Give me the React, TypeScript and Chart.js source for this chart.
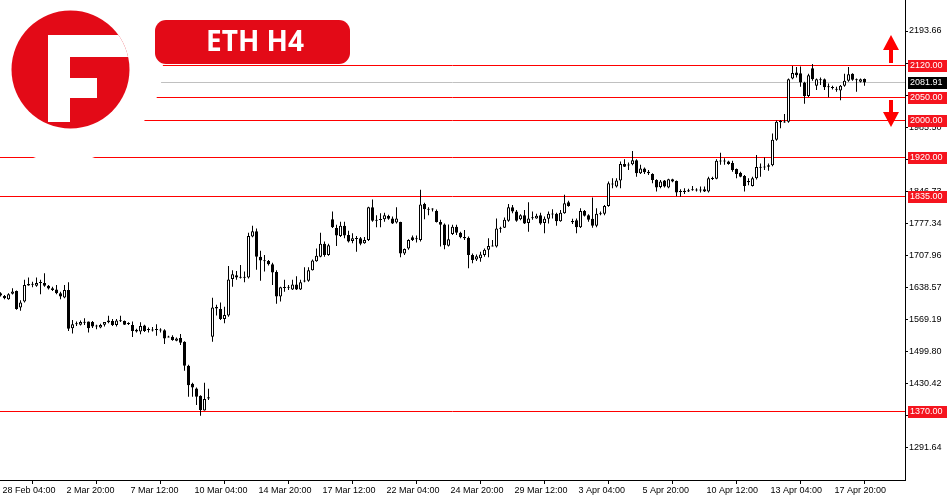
import React, { useEffect, useRef } from "react";
import { Chart, registerables } from "chart.js";

Chart.register(...registerables);

// ETH H4 candles (O/H/L/C), 28 Feb 04:00 .. 18 Apr
const opens = [
  1626, 1620, 1613, 1625, 1631, 1595, 1608, 1646, 1645, 1642, 1649, 1648, 1642, 1637, 1634, 1626,
  1617, 1633, 1550, 1559, 1558, 1563, 1565, 1564, 1555, 1552, 1558, 1567, 1566, 1557, 1566, 1566,
  1561, 1557, 1547, 1543, 1556, 1547, 1547, 1548, 1547, 1546, 1532, 1532, 1523, 1529, 1521, 1469,
  1430, 1420, 1404, 1372, 1401, 1532, 1596, 1592, 1570, 1578, 1657, 1665, 1661, 1660, 1660, 1749,
  1760, 1705, 1697, 1696, 1689, 1672, 1619, 1638, 1638, 1634, 1645, 1634, 1652, 1653, 1676, 1695,
  1705, 1733, 1709, 1786, 1767, 1750, 1772, 1752, 1739, 1745, 1745, 1734, 1741, 1812, 1784, 1785,
  1786, 1793, 1788, 1779, 1780, 1712, 1723, 1747, 1743, 1741, 1819, 1808, 1808, 1804, 1780, 1775,
  1729, 1754, 1770, 1757, 1748, 1746, 1709, 1699, 1702, 1709, 1720, 1728, 1727, 1766, 1768, 1783,
  1812, 1803, 1786, 1795, 1778, 1789, 1788, 1795, 1778, 1787, 1798, 1798, 1782, 1799, 1823, 1781,
  1784, 1769, 1804, 1795, 1787, 1772, 1798, 1798, 1815, 1863, 1857, 1870, 1906, 1903, 1905, 1914,
  1886, 1896, 1889, 1884, 1871, 1856, 1870, 1855, 1873, 1869, 1845, 1847, 1846, 1849, 1850, 1849,
  1851, 1846, 1875, 1874, 1913, 1912, 1911, 1908, 1895, 1887, 1880, 1866, 1858, 1875, 1898, 1899,
  1900, 1903, 1958, 1997, 1997, 1997, 2091, 2104, 2102, 2082, 2053, 2113, 2075, 2088, 2089, 2073,
  2072, 2068, 2065, 2075, 2086, 2101, 2088, 2084, 2090,
];
const highs = [
  1628, 1622, 1626, 1637, 1632, 1611, 1655, 1660, 1651, 1660, 1655, 1669, 1644, 1640, 1644, 1629,
  1644, 1650, 1568, 1565, 1567, 1572, 1565, 1566, 1558, 1560, 1564, 1577, 1570, 1570, 1577, 1567,
  1563, 1565, 1549, 1563, 1558, 1552, 1553, 1559, 1550, 1548, 1534, 1535, 1530, 1538, 1522, 1471,
  1432, 1422, 1405, 1432, 1419, 1616, 1601, 1606, 1597, 1685, 1676, 1674, 1687, 1673, 1757, 1772,
  1766, 1718, 1709, 1698, 1692, 1676, 1640, 1655, 1644, 1655, 1663, 1655, 1682, 1682, 1699, 1723,
  1757, 1738, 1733, 1803, 1774, 1781, 1781, 1761, 1756, 1750, 1748, 1748, 1813, 1829, 1795, 1799,
  1800, 1796, 1792, 1812, 1781, 1723, 1743, 1751, 1751, 1850, 1822, 1812, 1810, 1807, 1785, 1777,
  1775, 1774, 1774, 1759, 1763, 1749, 1712, 1710, 1716, 1723, 1745, 1741, 1788, 1770, 1790, 1819,
  1817, 1806, 1797, 1806, 1823, 1803, 1798, 1800, 1792, 1803, 1808, 1800, 1806, 1839, 1826, 1787,
  1788, 1810, 1806, 1797, 1833, 1810, 1803, 1817, 1868, 1875, 1875, 1911, 1916, 1909, 1934, 1916,
  1904, 1898, 1893, 1886, 1873, 1871, 1871, 1874, 1874, 1870, 1851, 1853, 1852, 1858, 1853, 1857,
  1857, 1878, 1878, 1916, 1930, 1918, 1913, 1913, 1896, 1889, 1882, 1875, 1878, 1925, 1907, 1920,
  1907, 1972, 2000, 2001, 2014, 2091, 2118, 2116, 2117, 2084, 2101, 2122, 2091, 2093, 2091, 2080,
  2075, 2073, 2077, 2101, 2116, 2102, 2091, 2091, 2091,
];
const lows = [
  1619, 1613, 1612, 1623, 1590, 1588, 1606, 1642, 1639, 1640, 1624, 1640, 1634, 1631, 1624, 1613,
  1615, 1544, 1539, 1555, 1556, 1557, 1541, 1551, 1548, 1550, 1554, 1561, 1555, 1554, 1564, 1557,
  1557, 1531, 1541, 1537, 1542, 1541, 1543, 1534, 1541, 1516, 1530, 1523, 1522, 1514, 1458, 1402,
  1402, 1384, 1361, 1372, 1395, 1521, 1578, 1568, 1561, 1575, 1640, 1655, 1658, 1650, 1658, 1747,
  1677, 1653, 1673, 1686, 1644, 1603, 1608, 1629, 1633, 1633, 1633, 1633, 1650, 1651, 1675, 1694,
  1704, 1705, 1707, 1767, 1728, 1748, 1745, 1736, 1734, 1716, 1730, 1733, 1739, 1781, 1769, 1769,
  1781, 1785, 1776, 1777, 1704, 1709, 1720, 1739, 1736, 1738, 1786, 1795, 1803, 1779, 1727, 1721,
  1727, 1752, 1752, 1745, 1741, 1680, 1691, 1696, 1694, 1705, 1704, 1727, 1725, 1757, 1767, 1781,
  1799, 1781, 1784, 1776, 1759, 1785, 1787, 1774, 1756, 1777, 1788, 1772, 1781, 1798, 1813, 1776,
  1756, 1767, 1792, 1781, 1768, 1769, 1795, 1795, 1813, 1853, 1855, 1853, 1899, 1893, 1903, 1878,
  1884, 1884, 1882, 1864, 1846, 1853, 1855, 1853, 1866, 1836, 1835, 1841, 1845, 1848, 1846, 1844,
  1845, 1844, 1871, 1873, 1904, 1904, 1904, 1889, 1875, 1877, 1846, 1860, 1857, 1872, 1878, 1893,
  1891, 1901, 1956, 1983, 1995, 1995, 2089, 2093, 2073, 2036, 2051, 2086, 2066, 2077, 2066, 2050,
  2067, 2062, 2044, 2073, 2084, 2086, 2062, 2082, 2075,
];
const closes = [
  1621, 1615, 1624, 1630, 1592, 1606, 1644, 1643, 1646, 1648, 1649, 1642, 1636, 1633, 1626, 1619,
  1633, 1549, 1559, 1561, 1564, 1563, 1550, 1554, 1555, 1557, 1564, 1563, 1557, 1567, 1567, 1558,
  1560, 1544, 1543, 1555, 1544, 1548, 1546, 1547, 1546, 1528, 1531, 1525, 1528, 1519, 1469, 1427,
  1422, 1402, 1373, 1397, 1398, 1595, 1593, 1570, 1579, 1656, 1667, 1660, 1660, 1661, 1750, 1760,
  1705, 1697, 1696, 1689, 1671, 1619, 1639, 1639, 1640, 1645, 1634, 1650, 1653, 1676, 1697, 1707,
  1733, 1709, 1730, 1769, 1751, 1772, 1751, 1738, 1745, 1744, 1733, 1741, 1812, 1783, 1784, 1786,
  1795, 1787, 1777, 1788, 1712, 1722, 1741, 1741, 1745, 1818, 1808, 1808, 1809, 1780, 1774, 1730,
  1743, 1770, 1757, 1747, 1745, 1709, 1698, 1706, 1710, 1720, 1728, 1729, 1766, 1767, 1785, 1812,
  1803, 1783, 1795, 1777, 1788, 1790, 1794, 1777, 1787, 1798, 1797, 1782, 1800, 1821, 1815, 1781,
  1769, 1804, 1794, 1785, 1772, 1798, 1798, 1815, 1864, 1862, 1870, 1906, 1900, 1904, 1914, 1886,
  1896, 1888, 1886, 1871, 1855, 1868, 1857, 1873, 1868, 1844, 1847, 1846, 1849, 1851, 1849, 1850,
  1846, 1875, 1874, 1913, 1912, 1912, 1906, 1893, 1884, 1878, 1858, 1869, 1875, 1899, 1899, 1900,
  1903, 1958, 1997, 1998, 1996, 2089, 2103, 2098, 2082, 2053, 2098, 2089, 2089, 2088, 2072, 2073,
  2071, 2067, 2075, 2086, 2100, 2088, 2088, 2089, 2082,
];

const tickLabels = [
  "28 Feb 04:00", "2 Mar 20:00", "7 Mar 12:00", "10 Mar 04:00", "14 Mar 20:00",
  "17 Mar 12:00", "22 Mar 04:00", "24 Mar 20:00", "29 Mar 12:00", "3 Apr 04:00",
  "5 Apr 20:00", "10 Apr 12:00", "13 Apr 04:00", "17 Apr 20:00",
];
const tickEvery = 16;
const priceTicks = [
  2193.66, 2124.27, 2054.89, 1985.5, 1916.12, 1846.73, 1777.34, 1707.96,
  1638.57, 1569.19, 1499.8, 1430.42, 1361.03, 1291.64,
];
const levels = [2120, 2050, 2000, 1920, 1835, 1370];
const currentPrice = 2081.91;
const title = "ETH H4";

const RED = "#ff0000";
const BRAND = "#e30a17";
const LABEL_RED = "#f5141e";
const FONT = "'Liberation Sans', Arial, sans-serif";

const overlayPlugin = {
  id: "overlay",
  beforeDatasetsDraw(chart: any) {
    const { ctx, chartArea, scales } = chart;
    const y = scales.y;
    ctx.save();
    ctx.lineWidth = 1;
    const yc = Math.floor(y.getPixelForValue(currentPrice)) + 0.5;
    ctx.strokeStyle = "#c0c0c0";
    ctx.beginPath();
    ctx.moveTo(0, yc);
    ctx.lineTo(chartArea.right, yc);
    ctx.stroke();
    ctx.strokeStyle = RED;
    levels.forEach((lv) => {
      const py = Math.floor(y.getPixelForValue(lv)) + 0.5;
      ctx.beginPath();
      ctx.moveTo(0, py);
      ctx.lineTo(chartArea.right, py);
      ctx.stroke();
    });
    // white halo behind logo
    ctx.fillStyle = "#ffffff";
    ctx.beginPath();
    ctx.arc(64, 63, 99, 0, Math.PI * 2);
    ctx.fill();
    // logo
    ctx.save();
    ctx.beginPath();
    ctx.arc(70.5, 69.5, 59, 0, Math.PI * 2);
    ctx.fillStyle = BRAND;
    ctx.fill();
    ctx.clip();
    ctx.fillStyle = "#ffffff";
    ctx.fillRect(48, 35, 100, 22);
    ctx.fillRect(48, 35, 22, 87);
    ctx.fillRect(70, 78, 27, 20);
    ctx.restore();
    // title badge
    ctx.fillStyle = BRAND;
    ctx.beginPath();
    (ctx as any).roundRect(155, 20, 195, 44, 11);
    ctx.fill();
    ctx.fillStyle = "#ffffff";
    ctx.font = "bold 28px 'Open Sans', 'DejaVu Sans', sans-serif";
    ctx.textAlign = "center";
    ctx.textBaseline = "middle";
    ctx.fillText(title, 255, 43);
    ctx.restore();
  },
  afterDraw(chart: any) {
    const { ctx, scales } = chart;
    const y = scales.y;
    ctx.save();
    ctx.font = "9px " + FONT;
    ctx.textAlign = "left";
    ctx.textBaseline = "middle";
    const box = (val: number, bg: string, text: string) => {
      const py = Math.floor(y.getPixelForValue(val)) + 0.5;
      ctx.fillStyle = bg;
      ctx.fillRect(908, Math.round(py - 6), 39, 12);
      ctx.fillStyle = "#ffffff";
      ctx.fillText(text, 910, py + 0.5);
    };
    levels.forEach((lv) => box(lv, LABEL_RED, lv.toFixed(2)));
    box(currentPrice, "#000000", currentPrice.toFixed(2));
    // arrows
    ctx.fillStyle = RED;
    ctx.beginPath();
    ctx.moveTo(891, 35);
    ctx.lineTo(899, 50);
    ctx.lineTo(883, 50);
    ctx.closePath();
    ctx.fill();
    ctx.fillRect(889, 49, 4, 14);
    ctx.fillRect(889, 100, 4, 13);
    ctx.beginPath();
    ctx.moveTo(883, 112);
    ctx.lineTo(899, 112);
    ctx.lineTo(891, 127);
    ctx.closePath();
    ctx.fill();
    ctx.restore();
  },
};

const noPad = (s: any) => {
  s.paddingTop = 0;
  s.paddingBottom = 0;
  s.paddingLeft = 0;
  s.paddingRight = 0;
};

export default function App() {
  const ref = useRef<HTMLCanvasElement | null>(null);
  useEffect(() => {
    if (!ref.current) return;
    const bodies = opens.map((o, i) => {
      const c = closes[i];
      let lo = Math.min(o, c);
      let hi = Math.max(o, c);
      if (hi - lo < 2.2) {
        const m = (hi + lo) / 2;
        lo = m - 1.1;
        hi = m + 1.1;
      }
      return { x: i, y: [lo, hi] };
    });
    const wicks = highs.map((h, i) => ({ x: i, y: [lows[i], h] }));
    const bodyColors = opens.map((o, i) => (closes[i] >= o ? "#ffffff" : "#000000"));
    const chart = new Chart(ref.current, {
      type: "bar",
      data: {
        datasets: [
          {
            data: bodies as any,
            backgroundColor: bodyColors,
            borderColor: "#000000",
            borderWidth: 1,
            borderSkipped: false,
            barThickness: 3,
            grouped: false,
            inflateAmount: 0,
          } as any,
          {
            data: wicks as any,
            backgroundColor: "#000000",
            borderWidth: 0,
            barThickness: 1,
            grouped: false,
            inflateAmount: 0,
          } as any,
        ],
      },
      plugins: [overlayPlugin],
      options: {
        animation: false,
        responsive: false,
        devicePixelRatio: 1,
        layout: { padding: 0 },
        plugins: { legend: { display: false }, tooltip: { enabled: false }, title: { display: false } },
        scales: {
          x: {
            type: "linear",
            offset: false,
            min: -0.125,
            max: 226.125,
            afterFit: (s: any) => {
              s.height = 20;
              noPad(s);
            },
            afterBuildTicks: (s: any) => {
              s.ticks = tickLabels.map((_, k) => ({ value: k * tickEvery }));
            },
            grid: { display: true, drawOnChartArea: false, drawTicks: true, tickLength: 4, color: "#000000" },
            border: { display: true, color: "#000000" },
            ticks: {
              autoSkip: false,
              maxRotation: 0,
              align: "start",
              labelOffset: 2,
              padding: 1,
              color: "#000000",
              font: { family: FONT, size: 9 },
              callback: (v: any) => tickLabels[Math.round(Number(v) / tickEvery)] ?? "",
            },
          },
          y: {
            type: "linear",
            position: "right",
            min: 1221.71,
            max: 2260.77,
            afterFit: (s: any) => {
              s.width = 45;
              noPad(s);
            },
            afterBuildTicks: (s: any) => {
              s.ticks = priceTicks.map((v) => ({ value: v }));
            },
            grid: { display: true, drawOnChartArea: false, drawTicks: true, tickLength: 3, color: "#000000" },
            border: { display: true, color: "#000000" },
            ticks: {
              padding: 1,
              color: "#000000",
              font: { family: FONT, size: 9 },
              callback: (v: any) => Number(v).toFixed(2),
            },
          },
        },
      } as any,
    });
    return () => chart.destroy();
  }, []);
  return (
    <div style={{ position: "fixed", left: 0, top: 0, width: 950, height: 500, background: "#ffffff" }}>
      <canvas ref={ref} width={950} height={500} style={{ width: 950, height: 500, display: "block" }} />
    </div>
  );
}
